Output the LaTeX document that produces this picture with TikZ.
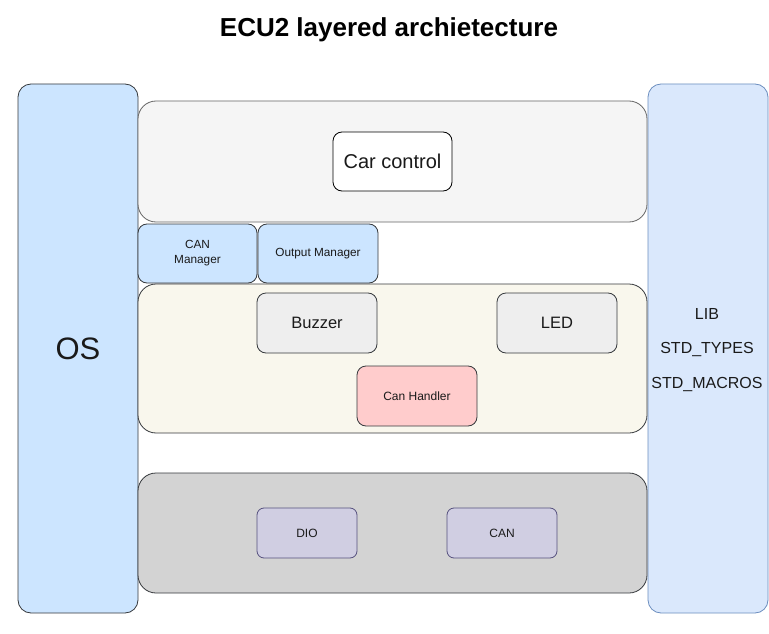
\documentclass[tikz,border=0pt]{standalone}
\usepackage{fontspec}
\setmainfont{Liberation Sans}
\usetikzlibrary{positioning}
\definecolor{osfill}{HTML}{CCE5FF}
\definecolor{osline}{HTML}{36393D}
\definecolor{libfill}{HTML}{DAE8FC}
\definecolor{libline}{HTML}{6C8EBF}
\definecolor{appfill}{HTML}{F5F5F5}
\definecolor{appline}{HTML}{666666}
\definecolor{halfill}{HTML}{F9F7ED}
\definecolor{mcalfill}{HTML}{D3D3D3}
\definecolor{ecufill}{HTML}{EEEEEE}
\definecolor{handfill}{HTML}{FFCCCC}
\definecolor{drvfill}{HTML}{D0CEE2}
\definecolor{drvline}{HTML}{56517E}
\definecolor{txt}{HTML}{1A1A1A}
\tikzset{
  box/.style={draw=osline, line width=0.8pt, rounded corners=#1, inner sep=0pt, text=txt, align=center},
  box/.default=9pt,
}
\newcommand{\rbox}[7]{% name, x1, y1, x2, y2, style, text
  \node[#6, minimum width={#4-#2}, minimum height={#5-#3}] (#1) at ({(#2+#4)/2},{(#3+#5)/2}) {#7};}
\begin{document}
\begin{tikzpicture}[x=1pt, y=-1pt]
\useasboundingbox (0,0) rectangle (769,634);
\fill[white] (0,0) rectangle (769,634);

% title
\node[font=\bfseries\fontsize{26}{30}\selectfont, text=black] (title) at (389,30) {ECU2 layered archietecture};

% side columns
\rbox{os}{18}{84}{138}{613}{box=13pt, fill=osfill, font=\fontsize{31}{36}\selectfont}{OS}
\rbox{lib}{648}{84}{768}{613}{box=13pt, fill=libfill, draw=libline}{}
\node[text=txt, font=\fontsize{16}{19}\selectfont] (libA) at (707,314) {LIB};
\node[text=txt, font=\fontsize{16}{19}\selectfont] (libB) at (707,350) {STD\_TYPES};
\node[text=txt, font=\fontsize{16}{19}\selectfont] (libC) at (707,385) {STD\_MACROS};

% application layer
\rbox{app}{138}{101}{647}{222}{box=18pt, fill=appfill, draw=appline}{}
\rbox{car}{333}{132}{452}{191}{box=9pt, fill=white, draw=black, font=\fontsize{20}{24}\selectfont}{Car control}

% managers
\rbox{canm}{138}{224}{257}{283}{box=9pt, fill=osfill, font=\fontsize{11.8}{15}\selectfont}{CAN\\Manager}
\rbox{outm}{258}{224}{378}{283}{box=9pt, fill=osfill, font=\fontsize{11.8}{15}\selectfont}{Output Manager}

% ECU abstraction layer
\rbox{hal}{138}{284}{647}{433}{box=18pt, fill=halfill}{}
\rbox{buzz}{257}{293}{377}{353}{box=9pt, fill=ecufill, font=\fontsize{16.5}{19}\selectfont}{Buzzer}
\rbox{led}{497}{293}{617}{353}{box=9pt, fill=ecufill, font=\fontsize{16.5}{19}\selectfont}{LED}
\rbox{canh}{357}{366}{477}{426}{box=9pt, fill=handfill, font=\fontsize{12}{14}\selectfont}{Can Handler}

% MCAL layer
\rbox{mcal}{138}{473}{647}{593}{box=18pt, fill=mcalfill}{}
\rbox{dio}{257}{508}{357}{558}{box=7pt, fill=drvfill, draw=drvline, font=\fontsize{12}{14}\selectfont}{DIO}
\rbox{can}{447}{508}{557}{558}{box=7pt, fill=drvfill, draw=drvline, font=\fontsize{12}{14}\selectfont}{CAN}
\end{tikzpicture}
\end{document}
